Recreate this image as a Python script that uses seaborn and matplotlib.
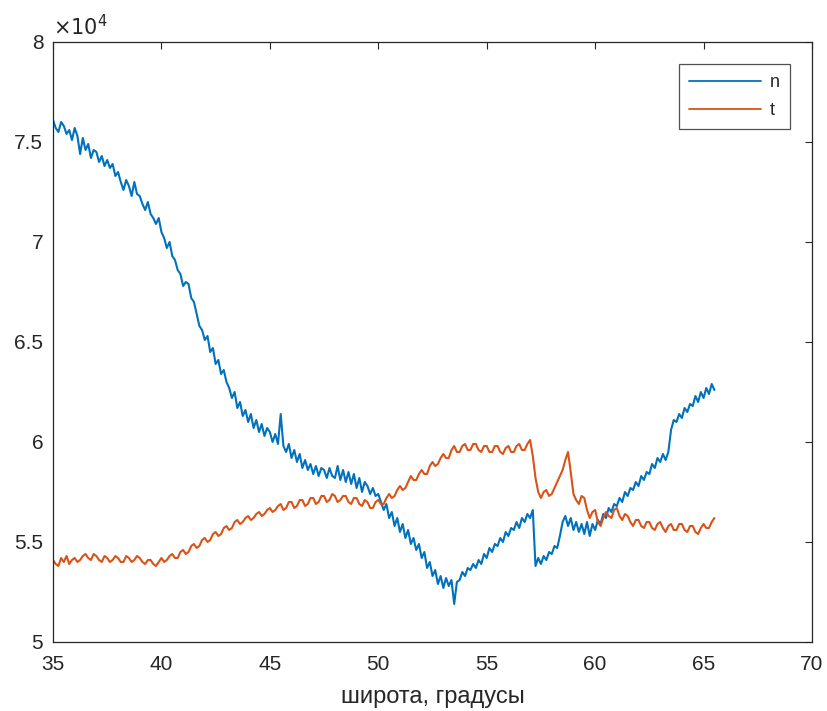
import numpy as np
import pandas as pd
import matplotlib
matplotlib.use("Agg")
import matplotlib.pyplot as plt
import seaborn as sns

# latitude grid, degrees (35 .. 65.5, step 0.125)
lat = [35.0 + 0.125 * i for i in range(245)]

# series values in units of 1e4
n_vals = [
    7.61, 7.57, 7.55, 7.60, 7.58, 7.54, 7.56, 7.51, 7.57, 7.53,
    7.44, 7.52, 7.46, 7.49, 7.42, 7.46, 7.45, 7.40, 7.43, 7.38,
    7.41, 7.37, 7.39, 7.33, 7.35, 7.30, 7.26, 7.31, 7.28, 7.23,
    7.30, 7.24, 7.23, 7.19, 7.16, 7.20, 7.14, 7.12, 7.09, 7.12,
    7.05, 7.02, 6.97, 7.00, 6.93, 6.91, 6.86, 6.84, 6.78, 6.80,
    6.79, 6.72, 6.70, 6.64, 6.58, 6.56, 6.51, 6.53, 6.45, 6.47,
    6.39, 6.41, 6.34, 6.36, 6.30, 6.27, 6.22, 6.25, 6.17, 6.20,
    6.13, 6.16, 6.10, 6.14, 6.07, 6.11, 6.05, 6.09, 6.03, 6.07,
    6.05, 6.00, 6.04, 5.99, 6.14, 5.98, 5.95, 5.99, 5.92, 5.96,
    5.90, 5.94, 5.87, 5.91, 5.86, 5.89, 5.84, 5.88, 5.83, 5.87,
    5.86, 5.82, 5.87, 5.83, 5.82, 5.88, 5.81, 5.86, 5.80, 5.85,
    5.79, 5.84, 5.77, 5.82, 5.75, 5.80, 5.78, 5.74, 5.77, 5.73,
    5.74, 5.70, 5.66, 5.69, 5.62, 5.65, 5.58, 5.62, 5.55, 5.59,
    5.52, 5.56, 5.49, 5.52, 5.46, 5.49, 5.42, 5.45, 5.37, 5.40,
    5.33, 5.36, 5.29, 5.33, 5.27, 5.32, 5.28, 5.31, 5.19, 5.30,
    5.31, 5.35, 5.33, 5.37, 5.36, 5.39, 5.37, 5.41, 5.39, 5.44,
    5.42, 5.47, 5.45, 5.49, 5.48, 5.52, 5.50, 5.55, 5.53, 5.57,
    5.56, 5.60, 5.57, 5.62, 5.60, 5.64, 5.62, 5.66, 5.38, 5.42,
    5.39, 5.43, 5.41, 5.45, 5.44, 5.48, 5.47, 5.53, 5.60, 5.63,
    5.58, 5.62, 5.56, 5.60, 5.55, 5.59, 5.54, 5.60, 5.53, 5.59,
    5.56, 5.61, 5.59, 5.64, 5.62, 5.67, 5.65, 5.69, 5.68, 5.72,
    5.70, 5.75, 5.73, 5.77, 5.76, 5.80, 5.78, 5.83, 5.81, 5.85,
    5.84, 5.89, 5.87, 5.92, 5.90, 5.94, 5.91, 5.95, 6.06, 6.11,
    6.10, 6.14, 6.12, 6.17, 6.15, 6.19, 6.18, 6.23, 6.20, 6.25,
    6.22, 6.27, 6.24, 6.29, 6.26,
]

t_vals = [
    5.41, 5.39, 5.38, 5.42, 5.40, 5.43, 5.39, 5.41, 5.42, 5.40,
    5.41, 5.43, 5.44, 5.42, 5.41, 5.44, 5.43, 5.41, 5.40, 5.43,
    5.42, 5.40, 5.41, 5.43, 5.42, 5.40, 5.40, 5.43, 5.42, 5.40,
    5.41, 5.43, 5.42, 5.40, 5.39, 5.41, 5.41, 5.39, 5.38, 5.40,
    5.42, 5.40, 5.41, 5.43, 5.44, 5.42, 5.42, 5.45, 5.46, 5.44,
    5.45, 5.48, 5.49, 5.47, 5.48, 5.51, 5.52, 5.50, 5.51, 5.54,
    5.55, 5.53, 5.54, 5.57, 5.58, 5.56, 5.57, 5.60, 5.61, 5.59,
    5.60, 5.62, 5.63, 5.61, 5.62, 5.64, 5.65, 5.63, 5.64, 5.66,
    5.67, 5.65, 5.66, 5.68, 5.69, 5.66, 5.67, 5.70, 5.70, 5.67,
    5.68, 5.71, 5.71, 5.68, 5.69, 5.72, 5.72, 5.69, 5.70, 5.73,
    5.73, 5.70, 5.71, 5.74, 5.73, 5.70, 5.71, 5.73, 5.73, 5.70,
    5.69, 5.72, 5.72, 5.69, 5.68, 5.71, 5.70, 5.67, 5.67, 5.70,
    5.71, 5.69, 5.69, 5.72, 5.74, 5.72, 5.73, 5.76, 5.78, 5.76,
    5.77, 5.80, 5.83, 5.81, 5.81, 5.84, 5.86, 5.84, 5.84, 5.88,
    5.90, 5.88, 5.89, 5.92, 5.94, 5.92, 5.92, 5.96, 5.98, 5.95,
    5.95, 5.98, 5.99, 5.96, 5.96, 5.99, 5.99, 5.96, 5.95, 5.98,
    5.98, 5.95, 5.95, 5.98, 5.98, 5.95, 5.94, 5.97, 5.98, 5.95,
    5.95, 5.98, 5.99, 5.96, 5.96, 5.99, 6.01, 5.93, 5.82, 5.75,
    5.72, 5.75, 5.76, 5.73, 5.74, 5.77, 5.80, 5.83, 5.86, 5.91,
    5.95, 5.85, 5.74, 5.71, 5.69, 5.73, 5.72, 5.66, 5.62, 5.65,
    5.66, 5.60, 5.58, 5.62, 5.65, 5.63, 5.62, 5.66, 5.67, 5.63,
    5.61, 5.64, 5.63, 5.60, 5.58, 5.61, 5.61, 5.58, 5.57, 5.60,
    5.60, 5.57, 5.56, 5.59, 5.60, 5.57, 5.55, 5.58, 5.59, 5.56,
    5.56, 5.59, 5.59, 5.56, 5.55, 5.58, 5.58, 5.55, 5.54, 5.57,
    5.59, 5.57, 5.57, 5.60, 5.62,
]

series_names = ["n", "t"]
x_ticks = [35, 40, 45, 50, 55, 60, 65, 70]
y_ticks = [5, 5.5, 6, 6.5, 7, 7.5, 8]
y_tick_labels = ["5", "5.5", "6", "6.5", "7", "7.5", "8"]
x_label = "широта, градусы"

df = pd.DataFrame({
    "lat": lat * 2,
    "value": n_vals + t_vals,
    "series": [series_names[0]] * len(n_vals) + [series_names[1]] * len(t_vals),
})

sns.set_theme(style="white")
plt.rcParams["font.family"] = ["Liberation Sans", "DejaVu Sans"]

fig = plt.figure(figsize=(8.28, 7.11), dpi=100)
ax = fig.add_axes([53 / 828, 1 - 642 / 711, (812 - 53) / 828, (642 - 42) / 711])

sns.lineplot(data=df, x="lat", y="value", hue="series",
             palette=["#0072BD", "#D95319"], estimator=None, sort=False,
             linewidth=1.5, ax=ax)

ax.set_xlim(35, 70)
ax.set_ylim(5, 8)
ax.set_xticks(x_ticks)
ax.set_yticks(y_ticks)
ax.set_yticklabels(y_tick_labels)
ax.tick_params(direction="in", length=5, width=0.8, colors="#262626",
               labelsize=15, top=True, right=True, labelcolor="#262626")
ax.tick_params(axis="x", pad=9)
ax.tick_params(axis="y", pad=7)
for s in ax.spines.values():
    s.set_color("#262626")
    s.set_linewidth(0.9)
ax.set_xlabel(x_label, fontsize=17, color="#262626", labelpad=9)
ax.set_ylabel("")
ax.text(0.0, 1.005, r"$\times10^{4}$", transform=ax.transAxes,
        fontsize=15, color="#262626", ha="left", va="bottom")

leg = ax.legend(loc="upper right", bbox_to_anchor=(0.971, 0.963), fontsize=13,
                frameon=True, fancybox=False, edgecolor="#262626",
                handlelength=4.0, borderpad=0.55, labelspacing=0.6,
                handletextpad=0.5, borderaxespad=0)
leg.get_frame().set_linewidth(0.9)
for line in leg.get_lines():
    line.set_linewidth(1.3)
leg.set_title(None)

fig.savefig("out.png", dpi=100)
